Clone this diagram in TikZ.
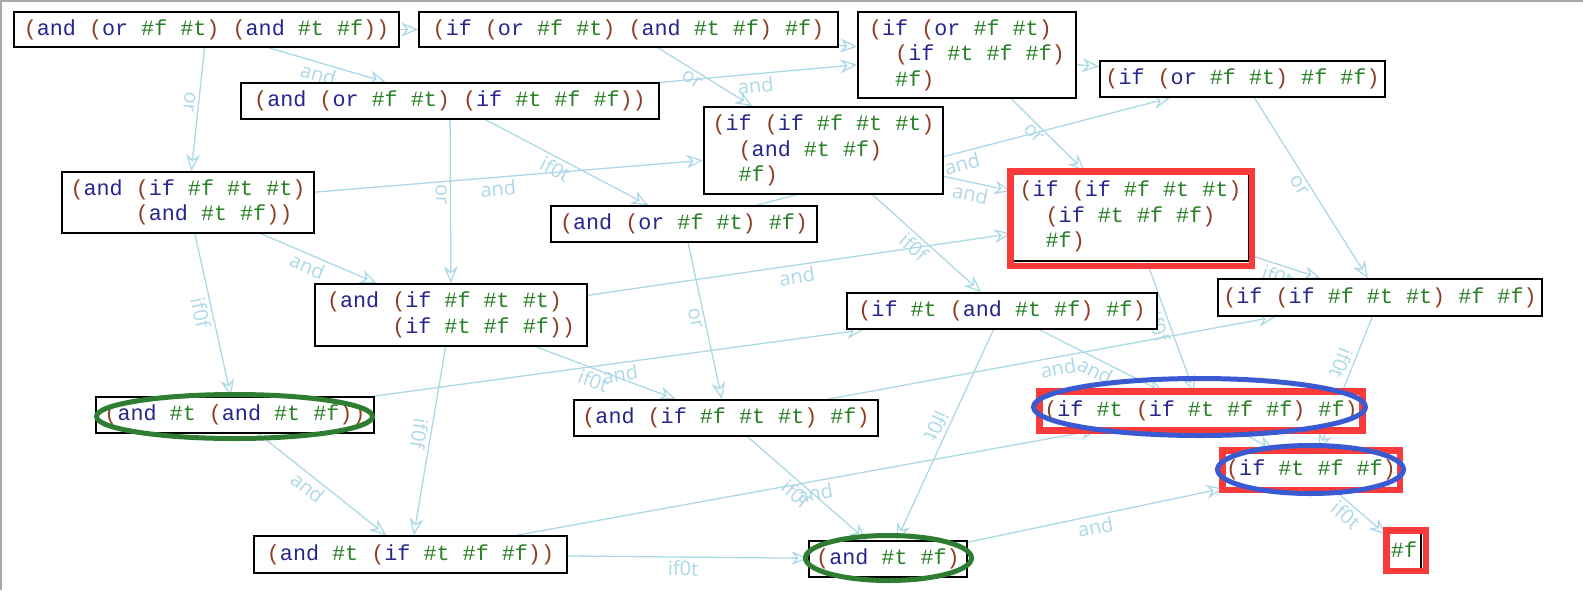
\documentclass[tikz,border=0pt]{standalone}
\usepackage{fontspec}
\usetikzlibrary{arrows.meta}
\newfontfamily\zcode{Liberation Mono}
\newfontfamily\zlab{Open Sans}
\definecolor{parcol}{RGB}{140,62,34}
\definecolor{kwcol}{RGB}{38,38,140}
\definecolor{cstcol}{RGB}{41,128,38}
\definecolor{edgecol}{RGB}{173,216,230}
\definecolor{redbox}{RGB}{248,58,58}
\definecolor{blueell}{RGB}{58,90,210}
\definecolor{greenell}{RGB}{46,125,50}
\definecolor{framegray}{RGB}{170,170,170}
\newlength\zcw \setlength\zcw{13.05pt}
\newcommand\zL{\textcolor{parcol}{(}}
\newcommand\zR{\textcolor{parcol}{)}}
\newcommand\zK[1]{\textcolor{kwcol}{#1}}
\newcommand\zT{\textcolor{cstcol}{\#t}}
\newcommand\zF{\textcolor{cstcol}{\#f}}
\newcommand\zI[1]{\hspace*{#1\zcw}}
\pgfdeclarelayer{bg}
\pgfsetlayers{bg,main}
\begin{document}
\begin{tikzpicture}[x=1pt, y=-1pt,
  term/.style={draw=black, line width=1.6pt, fill=white, inner sep=0pt, align=left,
    font={\zcode\fontsize{21.75pt}{25.5pt}\selectfont}},
  edge/.style={draw=edgecol, line width=1.3pt, -{Stealth[open, length=17pt, width=14pt, inset=5.5pt]}},
  lbl/.style={sloped, allow upside down, below, inner sep=3pt, text=edgecol,
    font={\zlab\fontsize{20pt}{23pt}\selectfont}},
  redframe/.style={draw=redbox, line width=6.5pt},
  blueoval/.style={draw=blueell, line width=5pt},
  greenoval/.style={draw=greenell, line width=5pt}]
\useasboundingbox (0,0) rectangle (1583,590);
\draw[framegray, line width=1.5pt] (0.75,590) -- (0.75,0.75) -- (1583,0.75);

\node[term, minimum width=385pt, minimum height=35pt] (A) at (206.5,29.5)
  {\zL\zK{and} \zL\zK{or} \zF{} \zT\zR{} \zL\zK{and} \zT{} \zF\zR\zR};
\node[term, minimum width=419pt, minimum height=35pt] (B) at (628.5,29.5)
  {\zL\zK{if} \zL\zK{or} \zF{} \zT\zR{} \zL\zK{and} \zT{} \zF\zR{} \zF\zR};
\node[term, minimum width=218pt, minimum height=86pt] (C) at (967,55)
  {\zL\zK{if} \zL\zK{or} \zF{} \zT\zR\\ \zI{2}\zL\zK{if} \zT{} \zF{} \zF\zR\\ \zI{2}\zF\zR};
\node[term, minimum width=285pt, minimum height=36pt] (D) at (1242.5,79)
  {\zL\zK{if} \zL\zK{or} \zF{} \zT\zR{} \zF{} \zF\zR};
\node[term, minimum width=418pt, minimum height=36pt] (E) at (450,101)
  {\zL\zK{and} \zL\zK{or} \zF{} \zT\zR{} \zL\zK{if} \zT{} \zF{} \zF\zR\zR};
\node[term, minimum width=239pt, minimum height=87pt] (F) at (823.5,150.5)
  {\zL\zK{if} \zL\zK{if} \zF{} \zT{} \zT\zR\\ \zI{2}\zL\zK{and} \zT{} \zF\zR\\ \zI{2}\zF\zR};
\node[term, minimum width=252pt, minimum height=61pt] (G) at (188,202.5)
  {\zL\zK{and} \zL\zK{if} \zF{} \zT{} \zT\zR\\ \zI{5}\zL\zK{and} \zT{} \zF\zR\zR};
\node[term, minimum width=266pt, minimum height=36pt] (H) at (684,224)
  {\zL\zK{and} \zL\zK{or} \zF{} \zT\zR{} \zF\zR};
\node[term, minimum width=237pt, minimum height=89pt] (I) at (1130.5,216.5)
  {\zL\zK{if} \zL\zK{if} \zF{} \zT{} \zT\zR\\ \zI{2}\zL\zK{if} \zT{} \zF{} \zF\zR\\ \zI{2}\zF\zR};
\node[term, minimum width=272pt, minimum height=62pt] (J) at (451,315)
  {\zL\zK{and} \zL\zK{if} \zF{} \zT{} \zT\zR\\ \zI{5}\zL\zK{if} \zT{} \zF{} \zF\zR\zR};
\node[term, minimum width=310pt, minimum height=36pt] (K) at (1002,311)
  {\zL\zK{if} \zT{} \zL\zK{and} \zT{} \zF\zR{} \zF\zR};
\node[term, minimum width=324pt, minimum height=37pt] (L) at (1380,297.5)
  {\zL\zK{if} \zL\zK{if} \zF{} \zT{} \zT\zR{} \zF{} \zF\zR};
\node[term, minimum width=278pt, minimum height=36pt] (M) at (235,415)
  {\zL\zK{and} \zT{} \zL\zK{and} \zT{} \zF\zR\zR};
\node[term, minimum width=304pt, minimum height=36pt] (N) at (726,418)
  {\zL\zK{and} \zL\zK{if} \zF{} \zT{} \zT\zR{} \zF\zR};
\node[term, minimum width=322pt, minimum height=36pt] (O) at (1201,411)
  {\zL\zK{if} \zT{} \zL\zK{if} \zT{} \zF{} \zF\zR{} \zF\zR};
\node[term, minimum width=174pt, minimum height=38pt] (P) at (1311,470)
  {\zL\zK{if} \zT{} \zF{} \zF\zR};
\node[term, minimum width=34pt, minimum height=38pt] (Q) at (1404,550)
  {\zF};
\node[term, minimum width=313pt, minimum height=37pt] (R) at (410.5,554.5)
  {\zL\zK{and} \zT{} \zL\zK{if} \zT{} \zF{} \zF\zR\zR};
\node[term, minimum width=158pt, minimum height=36pt] (S) at (888,559)
  {\zL\zK{and} \zT{} \zF\zR};

\begin{pgfonlayer}{bg}
\draw[edge] (A) -- (B);
\draw[edge] (A) -- node[lbl, pos=0.45] {or} (G);
\draw[edge] (A) -- node[lbl, pos=0.45] {and} (E);
\draw[edge] (B) -- (C);
\draw[edge] (B) -- node[lbl, pos=0.41] {or} (F);
\draw[edge] (C) -- (D);
\draw[edge] (C) -- node[lbl, pos=0.39] {or} (I);
\draw[edge] (D) -- node[lbl, pos=0.46] {or} (L);
\draw[edge] (E) -- node[lbl, pos=0.48] {and} (C);
\draw[edge] (E) -- node[lbl, pos=0.46] {or} (J);
\draw[edge] (E) -- node[lbl, pos=0.46] {if0t} (H);
\draw[edge] (F) -- node[lbl, pos=0.43] {and} (I);
\draw[edge] (H) -- node[lbl, pos=0.49] {and} (D);
\draw[edge] (F) -- node[lbl, pos=0.45] {if0f} (K);
\draw[edge] (G) -- node[lbl, pos=0.47] {and} (F);
\draw[edge] (G) -- node[lbl, pos=0.44] {and} (J);
\draw[edge] (G) -- node[lbl, pos=0.47] {if0f} (M);
\draw[edge] (H) -- node[lbl, pos=0.47] {or} (N);
\draw[edge] (I) -- node[lbl, pos=0.44] {if0t} (L);
\draw[edge] (I) -- node[lbl, pos=0.47] {if0f} (O);
\draw[edge] (J) -- node[lbl, pos=0.49] {and} (I);
\draw[edge] (J) -- node[lbl, pos=0.47] {if0f} (R);
\draw[edge] (J) -- node[lbl, pos=0.44] {if0t} (N);
\draw[edge] (M) -- node[lbl, pos=0.50] {and} (K);
\draw[edge] (K) -- node[lbl, pos=0.48] {if0t} (S);
\draw[edge] (K) -- node[lbl, pos=0.49] {and} (O);
\draw[edge] (N) -- node[lbl, pos=0.51] {and} (L);
\draw[edge] (L) -- node[lbl, pos=0.38] {if0t} (P);
\draw[edge] (M) -- node[lbl, pos=0.44] {and} (R);
\draw[edge] (N) -- node[lbl, pos=0.47] {if0f} (S);
\draw[edge] (R) -- node[lbl, pos=0.51] {and} (O);
\draw[edge] (R) -- node[lbl, pos=0.48] {if0t} (S);
\draw[edge] (O) -- (P);
\draw[edge] (S) -- node[lbl, pos=0.49] {and} (P);
\draw[edge] (P) -- node[lbl, pos=0.37] {if0t} (Q);
\end{pgfonlayer}

\draw[redframe] (1010.25,171.25) rectangle (1251.75,265.75);
\draw[redframe] (1039.35,391.35) rectangle (1362.65,430.65);
\draw[redframe] (1222.25,450.25) rectangle (1399.75,489.75);
\draw[redframe] (1386.25,530.25) rectangle (1425.75,570.75);
\draw[blueoval] (1199.5,407) ellipse [x radius=166pt, y radius=28.5pt];
\draw[blueoval] (1310.5,469.5) ellipse [x radius=93pt, y radius=24pt];
\draw[greenoval] (234.5,416.5) ellipse [x radius=138pt, y radius=22pt];
\draw[greenoval] (888.5,558) ellipse [x radius=83pt, y radius=22.5pt];
\end{tikzpicture}
\end{document}
